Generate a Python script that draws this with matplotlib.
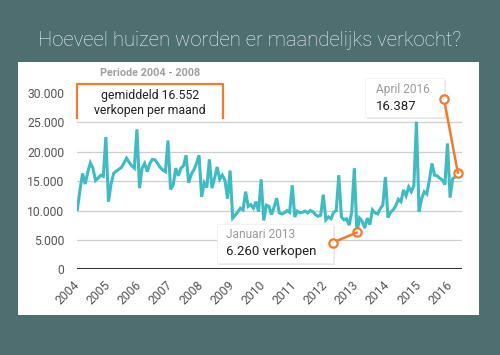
import matplotlib
matplotlib.use("Agg")
import matplotlib.pyplot as plt
from matplotlib.patches import Rectangle, ConnectionPatch
import numpy as np

# ---- data (monthly sales, Jan 2004 - Apr 2016) ----
years = ["2004", "2005", "2006", "2007", "2008", "2009", "2010",
         "2011", "2012", "2013", "2014", "2015", "2016"]
sales_2004 = [10200, 13500, 16300, 14500, 16500, 18100, 17200, 15100, 15500, 16000, 15800, 22500]
sales_2005 = [11500, 14500, 16300, 16700, 17000, 17300, 18100, 18900, 18200, 17600, 17200, 23800]
sales_2006 = [13800, 17200, 18000, 16600, 18000, 18700, 18600, 18000, 17300, 16900, 16600, 21900]
sales_2007 = [13600, 14300, 17200, 15900, 17200, 17600, 19400, 14700, 16200, 16900, 18000, 19400]
sales_2008 = [12300, 14700, 13900, 18700, 13800, 15500, 17400, 15300, 16000, 15200, 12000, 16800]
sales_2009 = [8700, 9200, 9800, 10400, 10100, 13200, 10700, 11000, 10400, 11500, 9800, 15300]
sales_2010 = [8300, 10900, 10700, 9300, 10600, 12100, 9600, 9400, 9600, 10000, 9700, 14300]
sales_2011 = [8900, 9900, 9600, 9700, 9900, 9600, 10000, 9800, 9300, 9000, 9200, 12700]
sales_2012 = [8400, 8900, 8600, 9700, 10000, 16000, 8900, 8400, 8600, 7500, 9800, 17200]
sales_2013 = [6260, 8700, 8200, 7000, 8700, 7600, 10100, 9600, 9400, 10300, 10900, 15700]
sales_2014 = [8800, 9700, 10100, 10800, 11900, 11500, 13500, 12500, 14000, 13200, 14200, 25100]
sales_2015 = [9800, 12000, 13200, 12800, 15200, 18000, 16000, 15900, 15500, 15200, 14400, 21400]
sales_2016 = [12200, 15400, 15700, 16387]

sales = (sales_2004 + sales_2005 + sales_2006 + sales_2007 + sales_2008 + sales_2009 +
         sales_2010 + sales_2011 + sales_2012 + sales_2013 + sales_2014 + sales_2015 + sales_2016)
months = np.arange(len(sales))

y_ticks = [0, 5000, 10000, 15000, 20000, 25000, 30000]
y_labels = ["0", "5.000", "10.000", "15.000", "20.000", "25.000", "30.000"]

title = "Hoeveel huizen worden er maandelijks verkocht?"
period_label = "Periode 2004 - 2008"
avg_text = "gemiddeld 16.552\nverkopen per maand"
jan_label, jan_value, jan_idx = "Januari 2013", "6.260 verkopen", 108
apr_label, apr_value, apr_idx = "April 2016", "16.387", 147

# ---- style ----
BG = "#4f6e6f"
TEAL = "#3dbcc4"
ORANGE = "#f47b2a"
plt.rcParams["font.family"] = ["Roboto", "DejaVu Sans"]

W, H = 500, 355
fig = plt.figure(figsize=(W / 100, H / 100), dpi=100, facecolor=BG)

def fx(x):
    return x / W

def fy(y_top):
    return (H - y_top) / H

# white panel
panel = Rectangle((fx(18), fy(315)), (479 - 18) / W, (315 - 62) / H,
                  transform=fig.transFigure, facecolor="white", edgecolor="none", zorder=-1)
fig.add_artist(panel)

fig.text(0.5, fy(40), title, ha="center", va="center", color="#f2f6f6",
         fontsize=14.6, fontweight="light")

ax = fig.add_axes([fx(77), fy(269.3), (462 - 77) / W, (269.3 - 92.9) / H])
ax.set_facecolor("none")
ax.plot(months, sales, color=TEAL, lw=2.2, zorder=3, solid_joinstyle="miter")
ax.set_xlim(-0.15, 148.6)
ax.set_ylim(0, 30000)
ax.set_yticks(y_ticks)
ax.set_yticklabels(y_labels)
for v in y_ticks[1:-1]:
    ax.axhline(v, color="#cfcfcf", lw=0.9, zorder=1)
ax.axhline(0, color="#333333", lw=2.2, zorder=4)
for s in ax.spines.values():
    s.set_visible(False)
ax.set_xticks(np.arange(0, len(years) * 12, 12))
ax.set_xticklabels(years, rotation=45, ha="right", va="center", rotation_mode="anchor")
ax.tick_params(axis="y", length=0, pad=9, labelsize=8.7, labelcolor="#555555")
ax.tick_params(axis="x", length=0, pad=10, labelsize=8.8, labelcolor="#555555")

# ---- period box ----
fig.text(fx(150), fy(73), period_label, ha="center", va="center", color="#a0a0a0",
         fontsize=7.8, fontweight="bold")
bx0, bx1, by0, by1 = 77, 223, 84, 118
fig.add_artist(Rectangle((fx(bx0), fy(by1)), (bx1 - bx0) / W, (by1 - by0) / H,
                         transform=fig.transFigure, facecolor="white", edgecolor="none", zorder=5))
fig.add_artist(plt.Line2D([fx(bx0), fx(bx0), fx(bx1), fx(bx1)],
                          [fy(by1), fy(by0), fy(by0), fy(by1)],
                          transform=fig.transFigure, color=ORANGE, lw=1.6, zorder=6))
fig.text(fx(150), fy(103), avg_text, ha="center", va="center", color="#222222",
         fontsize=8.8, linespacing=1.25, zorder=7)

# ---- tooltip boxes ----
def tooltip(x0, y0, x1, y1, label, value, lx, ly1, ly2, vsize):
    fig.add_artist(Rectangle((fx(x0 + 1.5), fy(y1 + 2)), (x1 - x0) / W, (y1 - y0) / H,
                             transform=fig.transFigure, facecolor="#e6e6e6",
                             edgecolor="none", zorder=8))
    fig.add_artist(Rectangle((fx(x0), fy(y1)), (x1 - x0) / W, (y1 - y0) / H,
                             transform=fig.transFigure, facecolor="white",
                             edgecolor="#eeeeee", lw=0.5, zorder=9))
    fig.text(fx(lx), fy(ly1), label, ha="left", va="center", color="#9a9a9a",
             fontsize=8.6, zorder=10)
    fig.text(fx(lx), fy(ly2), value, ha="left", va="center", color="#222222",
             fontsize=vsize, zorder=10)

tooltip(217, 224, 333, 263, jan_label, jan_value, 226, 234, 252, 9.5)
tooltip(365, 78, 444, 117, apr_label, apr_value, 376, 89, 106, 9.5)

def connector(px, py, idx):
    cp = ConnectionPatch(xyA=(fx(px), fy(py)), coordsA=fig.transFigure,
                         xyB=(idx, sales[idx]), coordsB=ax.transData,
                         color=ORANGE, lw=1.8, zorder=11)
    fig.add_artist(cp)
    fig.add_artist(plt.Line2D([fx(px)], [fy(py)], transform=fig.transFigure,
                              marker="o", ms=6, mfc="white", mec=ORANGE, mew=1.6,
                              zorder=12))
    ax.plot([idx], [sales[idx]], marker="o", ms=6, mfc="white", mec=ORANGE,
            mew=1.6, zorder=12, clip_on=False)

connector(332.5, 242.7, jan_idx)
connector(444, 99, apr_idx)

fig.savefig("out.png", dpi=100, facecolor=BG)
